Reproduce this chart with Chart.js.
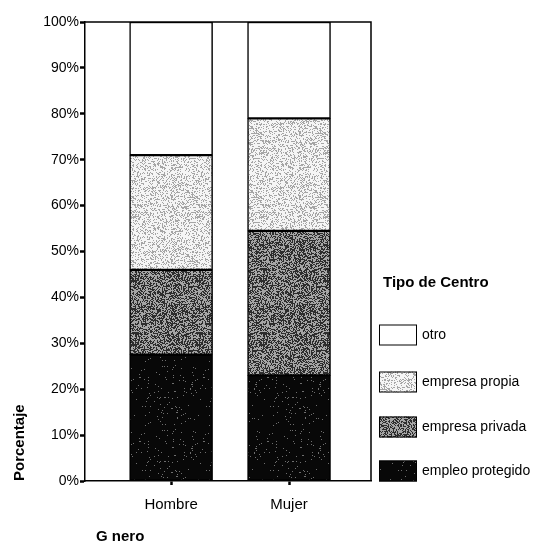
<!DOCTYPE html>
<html>
<head>
<meta charset="utf-8">
<script src="https://cdn.jsdelivr.net/npm/chart.js@4/dist/chart.umd.min.js"></script>
<style>
html,body{margin:0;padding:0;background:#fff;}
#wrap{width:535px;height:554px;position:relative;}
</style>
</head>
<body>
<div id="wrap"><canvas id="c" width="535" height="554"></canvas></div>
<script>
const categories = ["Hombre", "Mujer"];
const seriesNames = ["empleo protegido", "empresa privada", "empresa propia", "otro"];
const empleoProtegido = [27.5, 23.0];
const empresaPrivada = [18.5, 31.5];
const empresaPropia = [25.0, 24.5];
const otro = [29.0, 21.0];
const yTicks = [0, 10, 20, 30, 40, 50, 60, 70, 80, 90, 100];
const legendTitle = "Tipo de Centro";
const xTitle = "G nero";
const yTitle = "Porcentaje";

const FONT = "'Liberation Sans', Arial, sans-serif";
const seriesValues = [empleoProtegido, empresaPrivada, empresaPropia, otro];

// stipple textures (deterministic hash, purely decorative)
function stipple(base, dot, density) {
  const size = 64;
  const cv = document.createElement("canvas");
  cv.width = size; cv.height = size;
  const g = cv.getContext("2d");
  const img = g.createImageData(size, size);
  for (let y = 0; y < size; y++) {
    for (let x = 0; x < size; x++) {
      const s = Math.sin(x * 12.9898 + y * 78.233) * 43758.5453;
      const h = s - Math.floor(s);
      const c = h < density ? dot : base;
      const k = (y * size + x) * 4;
      img.data[k] = c; img.data[k + 1] = c; img.data[k + 2] = c; img.data[k + 3] = 255;
    }
  }
  g.putImageData(img, 0, 0);
  return g.createPattern(cv, "repeat");
}
const fills = [
  stipple(8, 110, 0.03),
  stipple(165, 45, 0.5),
  stipple(245, 165, 0.32),
  "#ffffff"
];

const datasets = seriesNames.map((name, i) => ({
  label: name,
  data: categories.map((c, j) => ({x: j + 1, y: seriesValues[i][j]})),
  backgroundColor: fills[i],
  borderColor: "#000",
  borderWidth: 1.5,
  borderSkipped: false,
  barThickness: 83,
  grouped: false
}));

const framePlugin = {
  id: "frame",
  afterDatasetsDraw(chart) {
    const {ctx, chartArea: a} = chart;
    ctx.save();
    ctx.strokeStyle = "#000";
    ctx.lineWidth = 1.5;
    ctx.beginPath();
    ctx.moveTo(a.left, a.top);
    ctx.lineTo(a.right, a.top);
    ctx.lineTo(a.right, a.bottom);
    ctx.stroke();
    ctx.restore();
  },
  afterDraw(chart) {
    const {ctx} = chart;
    ctx.save();
    ctx.fillStyle = "#000";
    ctx.textBaseline = "middle";
    ctx.textAlign = "left";
    ctx.font = "bold 15px " + FONT;
    ctx.fillText(legendTitle, 383, 283);
    const order = chart.data.datasets.slice().reverse();
    const centers = [335, 382, 427, 471];
    ctx.font = "14px " + FONT;
    order.forEach((ds, k) => {
      const cy = centers[k];
      ctx.fillStyle = ds.backgroundColor;
      ctx.fillRect(379, cy - 10.5, 38, 21);
      ctx.strokeStyle = "#000";
      ctx.lineWidth = 1;
      ctx.strokeRect(379.5, cy - 10, 37, 20);
      ctx.fillStyle = "#000";
      ctx.fillText(ds.label, 422, cy);
    });
    ctx.font = "bold 15px " + FONT;
    ctx.fillText(xTitle, 96, 537);
    ctx.restore();
  }
};

new Chart(document.getElementById("c"), {
  type: "bar",
  data: { datasets },
  options: {
    responsive: false,
    animation: false,
    layout: { padding: { left: 0, top: 22, right: 164, bottom: 0 } },
    plugins: { legend: { display: false }, tooltip: { enabled: false } },
    scales: {
      x: {
        type: "linear",
        offset: false,
        min: 0.27,
        max: 2.695,
        afterBuildTicks(scale) { scale.ticks = categories.map((c, j) => ({value: j + 1})); },
        afterFit(scale) { scale.height = 73; },
        ticks: {
          callback: (v) => categories[v - 1] || "",
          color: "#000",
          font: { family: FONT, size: 15 },
          padding: 11,
          maxRotation: 0
        },
        grid: { offset: false, drawOnChartArea: false, tickLength: 4, tickWidth: 2.5, tickColor: "#000" },
        border: { color: "#000", width: 1.5 }
      },
      y: {
        stacked: true,
        min: 0,
        max: 100,
        afterBuildTicks(scale) { scale.ticks = yTicks.map(v => ({value: v})); },
        afterFit(scale) { scale.width = 85; },
        ticks: {
          callback: (v) => v + "%",
          color: "#000",
          font: { family: FONT, size: 14 },
          padding: 1
        },
        title: {
          display: true,
          text: yTitle,
          align: "start",
          color: "#000",
          font: { family: FONT, size: 15, weight: "bold" },
          padding: { top: 11, bottom: 0 }
        },
        grid: { drawOnChartArea: false, tickLength: 5, tickWidth: 2.5, tickColor: "#000" },
        border: { color: "#000", width: 1.5 }
      }
    }
  },
  plugins: [framePlugin]
});
</script>
</body>
</html>
